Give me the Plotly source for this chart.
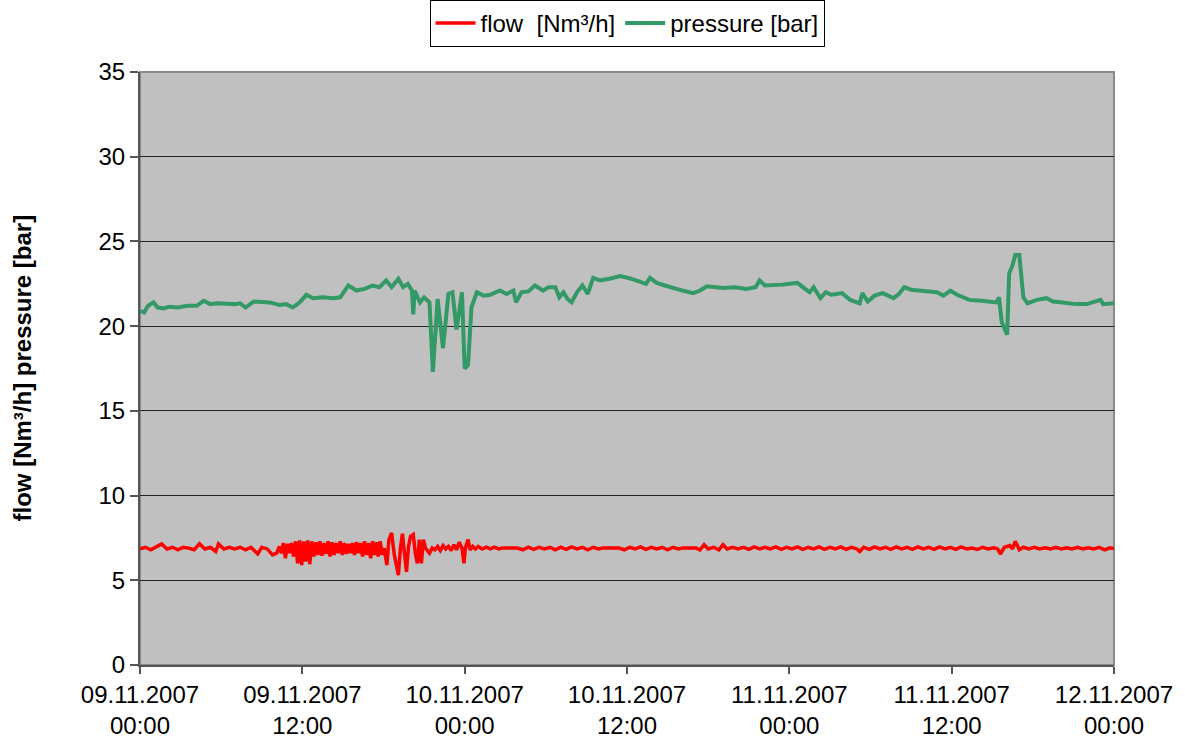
import pandas as pd
import plotly.graph_objects as go

start = pd.Timestamp("2007-11-09 00:00")

# ---- pressure [bar] (hours since start, value) ----
pressure_hours = [0, 0.3, 0.6, 1.0, 1.3, 1.7, 2.2, 2.8, 3.5, 4.2, 4.7, 5.2, 5.7, 6.3, 7.0, 7.4, 7.8, 8.4, 9.0, 9.6,
                  10.3, 10.8, 11.3, 11.8, 12.3, 12.8, 13.5, 14.3, 14.8, 15.4, 16.0, 16.6, 17.2, 17.7, 18.2, 18.6,
                  19.1, 19.45, 19.8, 20.1, 20.2, 20.3, 20.7, 21.0, 21.4, 21.65, 22.0, 22.4, 22.8, 23.1, 23.4, 23.8,
                  24.0, 24.25, 24.5, 24.9, 25.4, 25.9, 26.3, 26.6, 27.1, 27.6, 27.8, 28.2, 28.7, 29.2, 29.8, 30.2,
                  30.7, 31.0, 31.3, 31.6, 31.9, 32.3, 32.7, 33.1, 33.5, 34.0, 34.7, 35.5, 36.3, 37.0, 37.4, 37.7,
                  38.2, 38.8, 39.4, 40.1, 40.9, 41.4, 41.9, 42.5, 43.1, 44.0, 44.8, 45.5, 45.8, 46.2, 46.8, 47.5,
                  48.0, 48.6, 49.0, 49.5, 49.8, 50.3, 50.7, 51.1, 51.5, 51.9, 52.5, 53.2, 53.4, 53.8, 54.3, 54.9,
                  55.3, 55.7, 56.1, 56.5, 57.0, 57.6, 58.2, 58.9, 59.4, 59.9, 60.4, 61.3, 62.2, 63.3, 63.5, 63.7,
                  64.1, 64.25, 64.5, 64.7, 65.0, 65.3, 65.6, 66.3, 67.0, 67.5, 68.2, 69.2, 70.0, 71.0, 71.2, 72.0]
pressure_values = [20.9, 20.8, 21.2, 21.4, 21.1, 21.05, 21.15, 21.1, 21.2, 21.2, 21.5, 21.3, 21.35, 21.3, 21.3, 21.35,
                   21.1, 21.45, 21.4, 21.4, 21.25, 21.3, 21.1, 21.4, 21.85, 21.65, 21.7, 21.65, 21.7, 22.4, 22.1,
                   22.2, 22.4, 22.3, 22.7, 22.3, 22.8, 22.3, 22.5, 22.1, 20.7, 22.1, 21.4, 21.7, 21.4, 17.3, 21.6,
                   18.7, 21.9, 22.0, 19.8, 22.0, 17.5, 17.7, 21.1, 22.0, 21.8, 21.85, 22.0, 22.1, 21.9, 22.1, 21.4,
                   22.0, 22.05, 22.4, 22.1, 22.3, 22.3, 21.7, 22.0, 21.6, 21.4, 22.0, 22.4, 21.9, 22.85, 22.7, 22.8,
                   22.95, 22.8, 22.6, 22.5, 22.85, 22.55, 22.4, 22.25, 22.1, 21.95, 22.1, 22.35, 22.3, 22.25, 22.3,
                   22.2, 22.3, 22.7, 22.4, 22.4, 22.45, 22.5, 22.55, 22.3, 22.0, 22.3, 21.65, 22.0, 21.85, 21.9,
                   21.95, 21.55, 21.35, 21.95, 21.45, 21.8, 21.95, 21.8, 21.65, 21.9, 22.3, 22.15, 22.1, 22.1, 22.0,
                   21.8, 22.1, 21.85, 21.55, 21.5, 21.4, 21.7, 20.25, 19.5, 23.1, 23.6, 24.2, 24.2, 21.7, 21.35,
                   21.55, 21.65, 21.45, 21.4, 21.3, 21.3, 21.55, 21.3, 21.35]

# ---- flow [Nm³/h] (hours since start, value) ----
flow_hours = [0, 0.4, 0.8, 1.2, 1.6, 2.0, 2.4, 2.8, 3.2, 3.6, 4.0, 4.4, 4.8, 5.2, 5.6, 5.8, 6.2, 6.6, 7.0, 7.4, 7.8,
              8.2, 8.7, 9.0, 9.4, 9.8, 10.1,
              10.3, 10.45, 10.6, 10.75, 10.9, 11.05, 11.2, 11.35, 11.5, 11.65, 11.8, 11.95, 12.1, 12.25, 12.4, 12.55,
              12.7, 12.85, 13.0, 13.15, 13.3, 13.45, 13.6, 13.75, 13.9, 14.05, 14.2, 14.35, 14.5, 14.65, 14.8,
              14.95, 15.1, 15.25, 15.4, 15.55, 15.7, 15.85, 16.0, 16.15, 16.3, 16.45, 16.6, 16.75, 16.9, 17.05,
              17.2, 17.35, 17.5, 17.6,
              17.75, 17.9, 18.05, 18.25, 18.4, 18.6, 18.8, 19.1, 19.25, 19.4, 19.55, 19.7, 19.85, 20.0, 20.2,
              20.35, 20.5, 20.65, 20.8, 20.95, 21.1, 21.2,
              21.4, 21.6, 21.8, 22.0, 22.2, 22.4, 22.6, 22.8, 23.0, 23.2, 23.4, 23.6, 23.8, 23.95, 24.05, 24.25,
              24.4, 24.6, 24.8, 25.0, 25.3, 25.6, 25.9, 26.2, 26.5, 26.8, 27.9,
              28.3, 28.7, 29.1, 29.5, 29.9, 30.3, 30.7, 31.1, 31.5, 31.9, 32.3, 32.7, 33.1, 33.5, 33.9, 34.2,
              35.4, 35.8, 36.2, 36.6, 37.0, 37.4, 37.8, 38.2, 38.6, 39.0, 39.4, 39.8, 40.1,
              41.1, 41.4, 41.7, 42.0, 42.4, 42.8, 43.1, 43.4, 43.8, 44.2, 44.6, 45.0, 45.4, 45.8, 46.2, 46.6,
              47.0, 47.4, 47.8, 48.2, 48.6, 49.0, 49.4, 49.8, 50.2, 50.6, 51.0, 51.4, 51.8, 52.2, 52.6, 53.0,
              53.2, 53.5, 53.9, 54.3, 54.7, 55.1, 55.5, 55.9, 56.3, 56.7, 57.1, 57.5, 57.9, 58.3, 58.7, 59.1,
              59.5, 59.9, 60.3, 60.7, 61.1, 61.5, 61.9, 62.3, 62.7, 63.1, 63.4, 63.6, 63.9, 64.3, 64.5, 64.7,
              65.0, 65.3, 65.7, 66.1, 66.5, 66.9, 67.3, 67.7, 68.1, 68.5, 68.9, 69.3, 69.7, 70.1, 70.5, 70.9,
              71.3, 71.7, 72.0]
flow_values = [6.85, 6.95, 6.8, 6.95, 7.15, 6.85, 6.95, 6.8, 6.95, 6.9, 6.8, 7.15, 6.85, 6.95, 6.7, 7.15, 6.85, 6.95,
               6.85, 6.95, 6.8, 6.95, 6.55, 6.95, 6.85, 6.5, 6.6,
               7.0, 6.6, 7.2, 6.3, 7.15, 6.6, 7.2, 6.4, 7.3, 6.0, 7.35, 5.9, 7.3, 6.1, 7.35, 5.95, 7.3, 6.4, 7.25,
               6.5, 7.3, 6.45, 7.2, 6.55, 7.3, 6.4, 7.25, 6.5, 7.2, 6.6, 7.3, 6.5, 7.2, 6.55, 7.15, 6.6, 7.2, 6.5,
               7.25, 6.6, 7.2, 6.4, 7.3, 6.5, 7.2, 6.3, 7.3, 6.5, 7.25, 6.4,
               7.3, 6.5, 6.9, 5.9, 7.4, 7.8, 6.5, 5.3, 6.9, 7.75, 6.6, 5.5, 7.0, 7.6, 7.7, 6.6, 6.0, 7.4, 6.0,
               7.4, 6.9, 6.8,
               6.6, 6.9, 6.8, 7.0, 6.75, 7.05, 6.85, 7.0, 6.75, 7.1, 6.8, 7.25, 6.9, 6.0, 6.9, 7.4, 6.8, 7.0,
               6.85, 7.0, 6.85, 6.95, 6.85, 6.95, 6.85, 6.9, 6.9,
               6.8, 6.95, 6.82, 6.95, 6.85, 6.95, 6.8, 6.95, 6.82, 6.97, 6.85, 6.95, 6.8, 6.95, 6.85, 6.9,
               6.9, 6.8, 6.95, 6.85, 6.97, 6.82, 6.95, 6.85, 6.95, 6.8, 6.95, 6.85, 6.9,
               6.9, 6.8, 7.1, 6.85, 6.95, 6.8, 7.1, 6.85, 6.95, 6.85, 6.95, 6.82, 6.97, 6.85, 6.95, 6.85,
               6.97, 6.82, 6.95, 6.85, 6.97, 6.82, 6.95, 6.85, 6.97, 6.82, 6.95, 6.85, 6.97, 6.82, 6.95, 6.85,
               6.7, 6.95, 6.82, 6.97, 6.85, 6.95, 6.82, 6.97, 6.85, 6.95, 6.82, 6.97, 6.85, 6.95, 6.82, 6.97,
               6.85, 6.95, 6.82, 6.97, 6.85, 6.9, 6.82, 6.95, 6.85, 6.92, 6.85, 6.55, 6.95, 7.05, 6.85, 7.3,
               6.8, 6.95, 6.85, 6.95, 6.85, 6.92, 6.85, 6.95, 6.85, 6.92, 6.85, 6.95, 6.85, 6.92, 6.85, 6.95,
               6.8, 6.92, 6.88]

tick_hours = [0, 12, 24, 36, 48, 60, 72]
tick_labels = ["09.11.2007<br>00:00", "09.11.2007<br>12:00", "10.11.2007<br>00:00", "10.11.2007<br>12:00",
               "11.11.2007<br>00:00", "11.11.2007<br>12:00", "12.11.2007<br>00:00"]


def to_time(hours):
    return start + pd.to_timedelta(hours, unit="h")


FONT = "Liberation Sans, Arial, sans-serif"

fig = go.Figure()
fig.add_trace(go.Scatter(x=to_time(flow_hours), y=flow_values, mode="lines",
                         name="flow\u00a0\u00a0[Nm³/h]", line=dict(color="#FF0000", width=3.5)))
fig.add_trace(go.Scatter(x=to_time(pressure_hours), y=pressure_values, mode="lines",
                         name="pressure [bar]", line=dict(color="#339966", width=4)))

fig.add_shape(type="rect", xref="paper", yref="paper", x0=0, x1=1, y0=0, y1=1,
              line=dict(color="#8a8a8a", width=2), layer="below")

fig.update_layout(
    width=1185, height=744,
    margin=dict(l=140, r=71, t=72, b=79, autoexpand=False),
    paper_bgcolor="white", plot_bgcolor="#C0C0C0",
    font=dict(family=FONT, size=24, color="black"),
    showlegend=True,
    legend=dict(orientation="h", x=0.5, xanchor="center", xref="paper",
                y=1.0, yanchor="top", yref="container",
                bgcolor="white", bordercolor="black", borderwidth=1,
                font=dict(size=24), itemwidth=40, tracegroupgap=0),
    xaxis=dict(type="date", range=[to_time(0), to_time(72)], automargin=False,
               tickvals=to_time(tick_hours), ticktext=tick_labels,
               showgrid=False, zeroline=False, showline=True, linecolor="#555555", linewidth=2,
               ticks="outside", ticklen=7, tickcolor="#555555", tickwidth=1.5,
               tickfont=dict(size=24)),
    yaxis=dict(range=[0, 35], dtick=5, tick0=0, automargin=False,
               showgrid=True, gridcolor="#222222", gridwidth=1, zeroline=False,
               showline=True, linecolor="#555555", linewidth=2,
               ticks="outside", ticklen=8, tickcolor="#555555", tickwidth=1.5,
               tickfont=dict(size=24)),
)

fig.add_annotation(text="<b>flow [Nm³/h] pressure [bar]</b>", textangle=-90,
                   xref="paper", yref="paper", x=(22 - 140) / 974, y=0.5,
                   xanchor="center", yanchor="middle", showarrow=False,
                   font=dict(family=FONT, size=24, color="black"))

fig.write_html("out.html", config={"displayModeBar": False},
               post_script="document.body.style.margin='0';")
